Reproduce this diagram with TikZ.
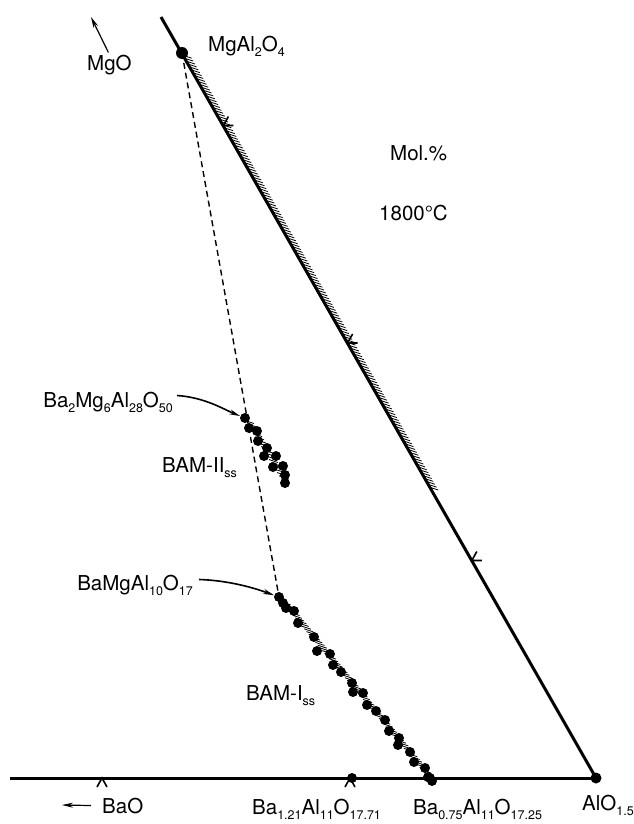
\documentclass[tikz,border=0pt]{standalone}
\usepackage{fontspec}
\setmainfont{TeX Gyre Heros}
\usetikzlibrary{arrows.meta,calc}
\newcommand\sbs[1]{\raisebox{-5pt}{\fontsize{12.5}{12.5}\selectfont #1}}
\tikzset{
  edge/.style={line width=3pt},
  tie/.style={line width=1.4pt,dash pattern=on 6pt off 4pt},
  hatch/.style={line width=0.8pt},
  gridtick/.style={line width=1.6pt},
  phase/.style={circle,fill,inner sep=0pt,minimum size=11pt},
  sdot/.style={circle,fill,inner sep=0pt,minimum size=10pt},
  tag/.style={font=\fontsize{20.5}{23}\selectfont,inner sep=0pt},
  pointer/.style={-{Stealth[length=11pt,width=5pt]},line width=1.6pt}
}

\begin{document}
\begin{tikzpicture}[x=1pt,y=-1pt]
  \useasboundingbox (0,0) rectangle (633,824);
  % phases on the edges
  \node[phase] (alo) at (596,778) {};
  \node[phase,minimum size=12pt] (spinel) at (182,53) {};
  \coordinate (top) at (161,17);
  \coordinate (left) at (10,778);
  \node[sdot] (ba121) at (352,778) {};
  \node[sdot] (ba075) at (430,778) {};
  \node[sdot] (bam2) at (245,418) {};
  \coordinate (bam2end) at (285,483);
  \node[sdot] (bam1) at (279,597) {};

  % solid solution hatching
  \foreach \t in {0.004,0.008,...,0.6}
    \draw[hatch] ($(spinel.center)!\t!(alo.center)$) ++(1,0) -- ++(7,2.3);
  \foreach \t in {0.03,0.045,...,0.97}
    \draw[hatch] ($(bam1.center)!\t!(ba075.center)$) ++(-2,-0.7) -- ++(9,3);
  \foreach \t in {0.05,0.1,...,0.95}
    \draw[hatch] ($(bam2.center)!\t!(bam2end)$) ++(-2,-0.7) -- ++(9,3);

  % edges of the triangle
  \draw[edge] (top) -- (alo.center);
  \draw[edge] (left) -- (alo.center);
  \draw[tie] (spinel.center) -- (bam1.center);

  % 10 mol.% ticks
  \foreach \f in {0.3,0.6,0.9}{
    \path ($(alo.center)!\f!(spinel.center)$) coordinate (g);
    \draw[gridtick] ($(g)+(5,-9)$) -- (g) -- ++(10,0);
  }
  \foreach \x in {102,350}
    \draw[gridtick] (\x-5,787) -- (\x,778) -- (\x+5,787);

  % BAM-II points
  \foreach \p in {(249,428),(257,431),(258,441),(267,448),(264,456),
                  (276,456),(273,467),(283,466),(285,475),(285,483)}
    \fill \p circle (5);
  % BAM-I points
  \foreach \p in {(283,603),(286,608),(294,611),(298,623),(314,637),
                  (317,651),(330,654),(333,665),(341,672),(352,683),
                  (353,692),(363,693),(367,705),(376,711),(385,720),
                  (389,731),(399,738),(398,745),(410,752),(414,762),
                  (425,768),(428,777),(432,781)}
    \fill \p circle (5);

  % labels
  \node[tag,anchor=base west] (mgolbl) at (87,71) {MgO};
  \coordinate (mgodir) at (91,17);
  \draw[pointer,line width=1.2pt] ($(mgolbl.north)+(-1,-3)$) -- (mgodir);
  \node[tag,anchor=base west] (spinellbl) at (208,52) {MgAl\sbs{2}O\sbs{4}};
  \node[tag,anchor=base west] (mol) at (390,160) {Mol.\%};
  \node[tag,anchor=base west] (temp) at (379,220) {1800°C};

  \node[tag,anchor=base east] (bam2lbl) at (173,407) {Ba\sbs{2}Mg\sbs{6}Al\sbs{28}O\sbs{50}};
  \draw[pointer] ($(bam2lbl.north east)+(4,4)$) .. controls +(28,2) and +(-22,-9) .. (bam2);
  \node[tag,anchor=base west] (bam2ss) at (162,472) {BAM-II\sbs{ss}};

  \node[tag,anchor=base east] (bam1lbl) at (193,590) {BaMgAl\sbs{10}O\sbs{17}};
  \draw[pointer] ($(bam1lbl.north east)+(6,5)$) .. controls +(32,1) and +(-22,-8) .. (bam1);
  \node[tag,anchor=base west] (bam1ss) at (246,700) {BAM-I\sbs{ss}};

  \node[tag,anchor=base west] (baolbl) at (102,813) {BaO};
  \coordinate (baodir) at (62,805);
  \draw[pointer,line width=1.2pt] ($(baolbl.west)+(-11,0)$) -- (baodir);
  \node[tag,anchor=base west] (ba121lbl) at (252,814) {Ba\sbs{1.21}Al\sbs{11}O\sbs{17.71}};
  \node[tag,anchor=base west] (ba075lbl) at (413,814) {Ba\sbs{0.75}Al\sbs{11}O\sbs{17.25}};
  \node[tag,anchor=base west] (alolbl) at (582,810) {AlO\sbs{1.5}};
\end{tikzpicture}
\end{document}
